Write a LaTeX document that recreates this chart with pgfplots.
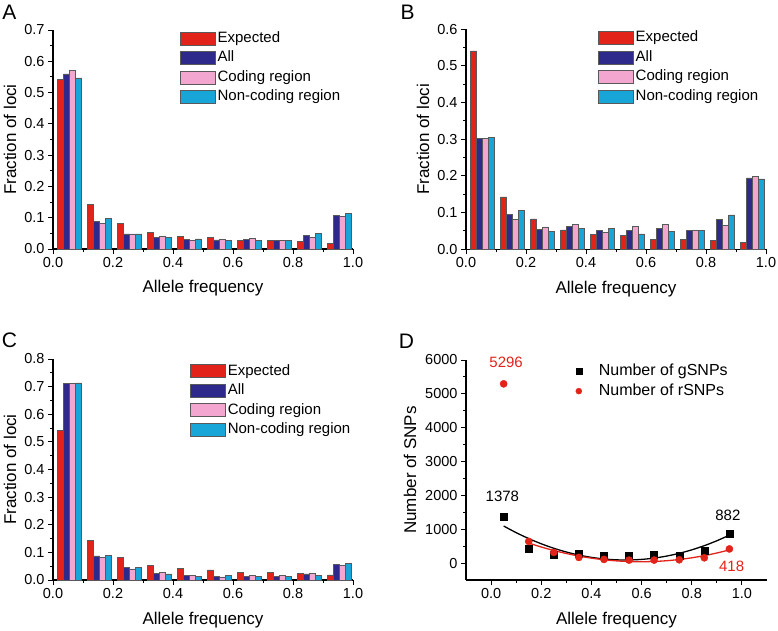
\documentclass[border=0pt]{standalone}
\usepackage{fontspec}
\setmainfont{Liberation Sans}
\usepackage{pgfplots}
\pgfplotsset{compat=1.18}
\usepackage{pgfplotstable}
\definecolor{cexp}{HTML}{E2231A}
\definecolor{call}{HTML}{2E2A8C}
\definecolor{ccod}{HTML}{F3A6D0}
\definecolor{cnon}{HTML}{18A6D9}
\definecolor{cred}{HTML}{E2231A}

\pgfplotstableread{
b exp all cod non
0.0 0.541 0.560 0.571 0.547
0.1 0.143 0.089 0.082 0.097
0.2 0.082 0.048 0.048 0.048
0.3 0.052 0.038 0.041 0.037
0.4 0.041 0.030 0.028 0.032
0.5 0.037 0.029 0.030 0.028
0.6 0.028 0.031 0.034 0.027
0.7 0.027 0.028 0.028 0.028
0.8 0.024 0.044 0.037 0.049
0.9 0.019 0.108 0.104 0.114
}\tabA
\pgfplotstableread{
b exp all cod non
0.0 0.541 0.303 0.303 0.305
0.1 0.143 0.095 0.081 0.107
0.2 0.083 0.055 0.061 0.049
0.3 0.053 0.062 0.069 0.057
0.4 0.041 0.052 0.046 0.057
0.5 0.037 0.052 0.063 0.042
0.6 0.028 0.058 0.067 0.049
0.7 0.027 0.051 0.051 0.052
0.8 0.024 0.081 0.066 0.094
0.9 0.019 0.195 0.198 0.192
}\tabB
\pgfplotstableread{
b exp all cod non
0.0 0.541 0.713 0.713 0.714
0.1 0.143 0.087 0.083 0.089
0.2 0.082 0.045 0.040 0.047
0.3 0.053 0.024 0.027 0.022
0.4 0.041 0.017 0.018 0.013
0.5 0.037 0.013 0.011 0.018
0.6 0.028 0.013 0.017 0.013
0.7 0.028 0.013 0.018 0.012
0.8 0.025 0.022 0.025 0.018
0.9 0.019 0.057 0.054 0.059
}\tabC

\pgfplotsset{
  panel/.style={
    scale only axis,
    axis x line*=bottom, axis y line*=left,
    tick align=outside,
    major tick length=5pt, minor tick length=3pt,
    axis line style={line width=1.1pt},
    every tick/.style={line width=1pt, black},
    tick label style={font=\fontsize{14.5}{17}\selectfont},
    label style={font=\fontsize{17}{20}\selectfont},
    /pgf/number format/assume math mode=true,
    xlabel style={at={(axis description cs:0.5,-0.18)}, anchor=center},
    ylabel style={at={(axis description cs:-0.143,0.5)}, anchor=center},
    minor x tick num=1, minor y tick num=1,
    legend cell align=left,
    legend style={draw=none, fill=none, inner sep=0pt,
      font=\fontsize{15}{18}\selectfont,
      nodes={text height=11.5pt, text depth=3.5pt, inner ysep=2.25pt, inner xsep=2pt}},
  },
  barpanel/.style={panel,
    xmin=0, xmax=1, ymin=0,
    xtick={0,0.2,0.4,0.6,0.8,1},
    ticklabel style={/pgf/number format/.cd, fixed, fixed zerofill, precision=1},
    xlabel={Allele frequency}, ylabel={Fraction of loci},
  },
  bars/.style={ybar, bar width=0.02, bar shift=0pt, draw=black!65, line width=0.5pt,
    legend image code/.code={\draw[##1] (0pt,-6.5pt) rectangle (35pt,6.5pt);}},
  markleg/.style={legend image code/.code={\path[draw=none, fill=none] (0pt,0pt) -- (27pt,0pt);
    \path[##1, only marks, mark size=3pt] plot coordinates {(9pt,0pt)};}},
}

\begin{document}
\begin{tikzpicture}
\useasboundingbox (0,0) rectangle (778pt,630pt);

% Panel A
\begin{axis}[barpanel, at={(53pt,381pt)}, anchor=south west, width=300pt, height=219pt,
  ymax=0.7, ytick={0,0.1,0.2,0.3,0.4,0.5,0.6,0.7},
  legend style={at={(0.423,1.007)}, anchor=north west}]
\addplot[bars, fill=cexp] table[x expr=\thisrow{b}+0.025, y=exp] {\tabA};
\addplot[bars, fill=call] table[x expr=\thisrow{b}+0.045, y=all] {\tabA};
\addplot[bars, fill=ccod] table[x expr=\thisrow{b}+0.065, y=cod] {\tabA};
\addplot[bars, fill=cnon] table[x expr=\thisrow{b}+0.085, y=non] {\tabA};
\legend{Expected, All, Coding region, Non-coding region}
\end{axis}

% Panel B
\begin{axis}[barpanel, at={(466pt,380.7pt)}, anchor=south west, width=300pt, height=220pt,
  ymax=0.6, ytick={0,0.1,0.2,0.3,0.4,0.5,0.6},
  legend style={at={(0.44,1.006)}, anchor=north west}]
\addplot[bars, fill=cexp] table[x expr=\thisrow{b}+0.025, y=exp] {\tabB};
\addplot[bars, fill=call] table[x expr=\thisrow{b}+0.045, y=all] {\tabB};
\addplot[bars, fill=ccod] table[x expr=\thisrow{b}+0.065, y=cod] {\tabB};
\addplot[bars, fill=cnon] table[x expr=\thisrow{b}+0.085, y=non] {\tabB};
\legend{Expected, All, Coding region, Non-coding region}
\end{axis}

% Panel C
\begin{axis}[barpanel, at={(53pt,50pt)}, anchor=south west, width=300pt, height=221pt,
  ymax=0.8, ytick={0,0.1,0.2,0.3,0.4,0.5,0.6,0.7,0.8},
  legend style={at={(0.457,0.99)}, anchor=north west}]
\addplot[bars, fill=cexp] table[x expr=\thisrow{b}+0.025, y=exp] {\tabC};
\addplot[bars, fill=call] table[x expr=\thisrow{b}+0.045, y=all] {\tabC};
\addplot[bars, fill=ccod] table[x expr=\thisrow{b}+0.065, y=cod] {\tabC};
\addplot[bars, fill=cnon] table[x expr=\thisrow{b}+0.085, y=non] {\tabC};
\legend{Expected, All, Coding region, Non-coding region}
\end{axis}

% Panel D
\begin{axis}[panel, at={(466pt,50pt)}, anchor=south west, width=301pt, height=220pt,
  clip=false,
  xmin=-0.1, xmax=1.1, ymin=-500, ymax=6000,
  xtick={0,0.2,0.4,0.6,0.8,1},
  ytick={0,1000,2000,3000,4000,5000,6000},
  scaled y ticks=false,
  xticklabel style={/pgf/number format/.cd, fixed, fixed zerofill, precision=1},
  yticklabel style={/pgf/number format/.cd, fixed, precision=0, 1000 sep={}},
  xlabel={Allele frequency}, ylabel={Number of SNPs},
  ylabel style={at={(axis description cs:-0.186,0.5)}},
  legend style={at={(axis cs:0.313,5950)}, anchor=north west,
    font=\fontsize{16}{19}\selectfont}]
\addplot[only marks, mark=square*, mark size=3.5pt, black, markleg] coordinates {
(0.05,1378) (0.15,413) (0.25,246) (0.35,265) (0.45,226) (0.55,226) (0.65,256) (0.75,226) (0.85,364) (0.95,882)};
\addplot[only marks, mark=*, mark size=3.6pt, cred, markleg] coordinates {
(0.05,5296) (0.15,640) (0.25,315) (0.35,167) (0.45,108) (0.55,88) (0.65,88) (0.75,98) (0.85,157) (0.95,418)};
\legend{Number of gSNPs, Number of rSNPs}
\addplot[black, line width=1.3pt, smooth, forget plot] coordinates {
(0.05,1095) (0.10,899) (0.15,724) (0.20,570) (0.25,438) (0.30,327) (0.35,237) (0.40,169) (0.45,122) (0.50,96)
(0.55,92) (0.60,109) (0.65,147) (0.70,207) (0.75,288) (0.80,391) (0.85,514) (0.90,659) (0.95,826)};
\addplot[cred, line width=1.3pt, smooth, forget plot] coordinates {
(0.15,592) (0.20,475) (0.25,372) (0.30,283) (0.35,207) (0.40,146) (0.45,99) (0.50,65) (0.55,46)
(0.60,40) (0.65,48) (0.70,70) (0.75,106) (0.80,156) (0.85,220) (0.90,298) (0.95,390)};
\node[text=cred, font=\fontsize{15}{18}\selectfont] at (axis cs:0.06,5930) {5296};
\node[font=\fontsize{15}{18}\selectfont] at (axis cs:0.045,1962) {1378};
\node[font=\fontsize{15}{18}\selectfont] at (axis cs:0.944,1420) {882};
\node[text=cred, font=\fontsize{15}{18}\selectfont] at (axis cs:0.959,-90) {418};
\end{axis}

\node[font=\fontsize{21}{24}\selectfont] at (9.5pt,617.5pt) {A};
\node[font=\fontsize{21}{24}\selectfont] at (407.5pt,617.5pt) {B};
\node[font=\fontsize{21}{24}\selectfont] at (9.5pt,289.5pt) {C};
\node[font=\fontsize{21}{24}\selectfont] at (406.5pt,288.5pt) {D};
\end{tikzpicture}
\end{document}
